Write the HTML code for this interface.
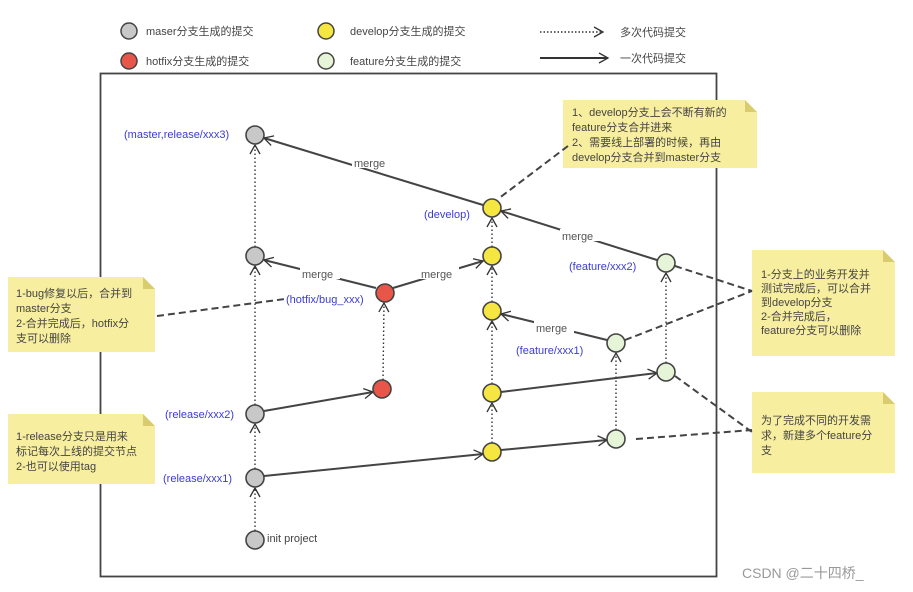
<!DOCTYPE html>
<html><head><meta charset="utf-8"><style>
html,body{margin:0;padding:0;background:#fff;}
svg{display:block;font-family:"Liberation Sans","Noto Sans CJK SC",sans-serif;}
</style></head><body>
<svg width="913" height="592" viewBox="0 0 913 592" xmlns="http://www.w3.org/2000/svg">
<defs>
<marker id="a" markerWidth="12" markerHeight="12" refX="10" refY="6" orient="auto" markerUnits="userSpaceOnUse">
<path d="M1,1 L10,6 L1,11" fill="none" stroke="#333" stroke-width="1.3"/>
</marker>
</defs>
<rect width="913" height="592" fill="#fff"/>
<!-- legend -->
<g font-size="11" fill="#444">
<circle cx="129" cy="31" r="8" fill="#c8c8c8" stroke="#444" stroke-width="1.5"/>
<text x="146" y="35">maser分支生成的提交</text>
<circle cx="129" cy="61" r="8" fill="#e8564a" stroke="#444" stroke-width="1.5"/>
<text x="146" y="65">hotfix分支生成的提交</text>
<circle cx="326" cy="31" r="8" fill="#f5e642" stroke="#444" stroke-width="1.5"/>
<text x="350" y="35">develop分支生成的提交</text>
<circle cx="326" cy="61" r="8" fill="#e6f5d8" stroke="#444" stroke-width="1.5"/>
<text x="350" y="65">feature分支生成的提交</text>
<line x1="540" y1="32" x2="603" y2="32" stroke="#333" stroke-width="1.5" stroke-dasharray="1.5,2" marker-end="url(#a)"/>
<text x="620" y="36">多次代码提交</text>
<line x1="540" y1="58" x2="608" y2="58" stroke="#333" stroke-width="2" marker-end="url(#a)"/>
<text x="620" y="62">一次代码提交</text>
</g>
<rect x="100.5" y="73.5" width="616" height="503" fill="none" stroke="#444" stroke-width="1.8"/>
<!-- notes -->
<g fill="#f8ee9f">
<path d="M563,100 H745 L757,112 V168 H563 Z"/>
<path d="M8,277 H143 L155,289 V352 H8 Z"/>
<path d="M8,414 H143 L155,426 V484 H8 Z"/>
<path d="M752,250 H883 L895,262 V356 H752 Z"/>
<path d="M752,392 H883 L895,404 V473 H752 Z"/>
</g>
<g fill="#d9cc6e">
<path d="M745,100 L757,112 H745 Z"/><path d="M143,277 L155,289 H143 Z"/><path d="M143,414 L155,426 H143 Z"/><path d="M883,250 L895,262 H883 Z"/><path d="M883,392 L895,404 H883 Z"/>
</g>
<g font-size="11" fill="#444">
<text x="572" y="116">1、develop分支上会不断有新的</text>
<text x="572" y="131">feature分支合并进来</text>
<text x="572" y="146">2、需要线上部署的时候，再由</text>
<text x="572" y="161">develop分支合并到master分支</text>
<text x="16" y="297">1-bug修复以后，合并到</text>
<text x="16" y="312">master分支</text>
<text x="16" y="327">2-合并完成后，hotfix分</text>
<text x="16" y="342">支可以删除</text>
<text x="16" y="440">1-release分支只是用来</text>
<text x="16" y="455">标记每次上线的提交节点</text>
<text x="16" y="470">2-也可以使用tag</text>
<text x="761" y="278">1-分支上的业务开发并</text>
<text x="761" y="292">测试完成后，可以合并</text>
<text x="761" y="306">到develop分支</text>
<text x="761" y="320">2-合并完成后，</text>
<text x="761" y="334">feature分支可以删除</text>
<text x="761" y="424">为了完成不同的开发需</text>
<text x="761" y="439">求，新建多个feature分</text>
<text x="761" y="454">支</text>
</g>
<!-- dashed connectors -->
<g stroke="#444" stroke-width="2" stroke-dasharray="7,4" fill="none">
<line x1="568" y1="146" x2="498" y2="199"/>
<line x1="157" y1="316" x2="285" y2="299"/>
<line x1="675" y1="266" x2="752" y2="291"/>
<line x1="625" y1="340" x2="752" y2="291"/>
<line x1="675" y1="376" x2="752" y2="432"/>
<line x1="636" y1="439" x2="752" y2="430"/>
</g>
<!-- dotted -->
<g stroke="#333" stroke-width="1.4" stroke-dasharray="1.5,2.5" fill="none" marker-end="url(#a)">
<line x1="255" y1="531" x2="255" y2="488"/>
<line x1="255" y1="469" x2="255" y2="424"/>
<line x1="255" y1="405" x2="255" y2="266"/>
<line x1="255" y1="247" x2="255" y2="145"/>
<line x1="383" y1="380" x2="384" y2="303"/>
<line x1="492" y1="443" x2="492" y2="403"/>
<line x1="492" y1="384" x2="492" y2="321"/>
<line x1="492" y1="302" x2="492" y2="266"/>
<line x1="492" y1="247" x2="492" y2="218"/>
<line x1="616" y1="430" x2="616" y2="353"/>
<line x1="666" y1="363" x2="666" y2="273"/>
</g>
<!-- solid -->
<g stroke="#444" stroke-width="2" fill="none" marker-end="url(#a)">
<line x1="483" y1="205" x2="264" y2="138"/>
<line x1="657" y1="260" x2="501" y2="211"/>
<line x1="376" y1="288" x2="264" y2="260"/>
<line x1="393" y1="288" x2="483" y2="261"/>
<line x1="607" y1="340" x2="501" y2="314"/>
<line x1="264" y1="411" x2="373" y2="392"/>
<line x1="501" y1="392" x2="657" y2="373"/>
<line x1="264" y1="476" x2="483" y2="454"/>
<line x1="501" y1="450" x2="607" y2="440"/>
</g>
<!-- merge labels with white bg -->
<g font-size="11" fill="#555">
<rect x="352" y="156" width="40" height="12" fill="#fff"/><text x="354" y="167">merge</text>
<rect x="560" y="229" width="40" height="12" fill="#fff"/><text x="562" y="240">merge</text>
<rect x="300" y="267" width="40" height="12" fill="#fff"/><text x="302" y="278">merge</text>
<rect x="419" y="267" width="40" height="12" fill="#fff"/><text x="421" y="278">merge</text>
<rect x="534" y="321" width="40" height="12" fill="#fff"/><text x="536" y="332">merge</text>
</g>
<!-- nodes -->
<g stroke="#444" stroke-width="1.6">
<circle cx="255" cy="135" r="9" fill="#c8c8c8"/>
<circle cx="255" cy="256" r="9" fill="#c8c8c8"/>
<circle cx="255" cy="414" r="9" fill="#c8c8c8"/>
<circle cx="255" cy="478" r="9" fill="#c8c8c8"/>
<circle cx="255" cy="540" r="9" fill="#c8c8c8"/>
<circle cx="385" cy="293" r="9" fill="#e8564a"/>
<circle cx="382" cy="389" r="9" fill="#e8564a"/>
<circle cx="492" cy="208" r="9" fill="#f5e642"/>
<circle cx="492" cy="256" r="9" fill="#f5e642"/>
<circle cx="492" cy="311" r="9" fill="#f5e642"/>
<circle cx="492" cy="393" r="9" fill="#f5e642"/>
<circle cx="492" cy="452" r="9" fill="#f5e642"/>
<circle cx="616" cy="343" r="9" fill="#e6f5d8"/>
<circle cx="616" cy="439" r="9" fill="#e6f5d8"/>
<circle cx="666" cy="263" r="9" fill="#e6f5d8"/>
<circle cx="666" cy="372" r="9" fill="#e6f5d8"/>
</g>
<g font-size="11" fill="#3b3bd6">
<text x="124" y="138">(master,release/xxx3)</text>
<text x="424" y="218">(develop)</text>
<text x="286" y="303">(hotfix/bug_xxx)</text>
<text x="569" y="270">(feature/xxx2)</text>
<text x="516" y="354">(feature/xxx1)</text>
<text x="165" y="418">(release/xxx2)</text>
<text x="163" y="482">(release/xxx1)</text>
</g>
<text x="267" y="542" font-size="11" fill="#444">init project</text>
<text x="742" y="578" font-size="14" fill="#999">CSDN @二十四桥_</text>
</svg>
</body></html>
